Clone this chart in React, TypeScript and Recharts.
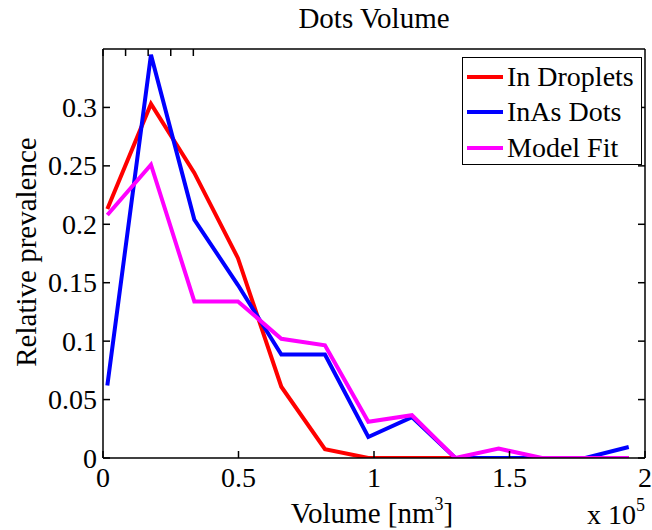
import { LineChart, Line, XAxis, YAxis, Legend } from 'recharts';

// bin centres, in units of 1e5 nm^3
const volumes = [0.016, 0.177, 0.337, 0.498, 0.658, 0.819, 0.979, 1.14, 1.3, 1.46, 1.62, 1.78, 1.94];
const inDroplets = [0.213, 0.303, 0.244, 0.171, 0.061, 0.0075, 0, 0, 0, 0, 0, 0, 0];
const inAsDots = [0.062, 0.345, 0.204, 0.148, 0.0885, 0.0885, 0.018, 0.035, 0, 0, 0, 0, 0.0094];
const modelFit = [0.208, 0.251, 0.134, 0.134, 0.102, 0.0965, 0.031, 0.0366, 0, 0.008, 0, 0, 0];

const xTicks = [0, 0.5, 1, 1.5, 2];
const yTicks = [0, 0.05, 0.1, 0.15, 0.2, 0.25, 0.3];

const rows = volumes.map((v, i) => ({
  volume: v,
  droplets: inDroplets[i],
  dots: inAsDots[i],
  fit: modelFit[i],
}));

const FONT = '"Liberation Serif", "Times New Roman", serif';
const FS = 28;
const LABEL_FS = 29;

const BottomTick = (props: any) => {
  const { x, y, payload } = props;
  return (
    <g>
      <line x1={x} x2={x} y1={y} y2={y - 7} stroke="#000" strokeWidth={1.5} />
      <text x={x} y={y + 29} textAnchor="middle" fontSize={FS} fontFamily={FONT} fill="#000">
        {payload.value}
      </text>
    </g>
  );
};

const LeftTick = (props: any) => {
  const { x, y, payload } = props;
  return (
    <g>
      <line x1={x} x2={x + 7} y1={y} y2={y} stroke="#000" strokeWidth={1.5} />
      <text x={x - 6} y={y + 9.5} textAnchor="end" fontSize={FS} fontFamily={FONT} fill="#000">
        {payload.value}
      </text>
    </g>
  );
};

const TopTick = (props: any) => {
  const { x, y } = props;
  return <line x1={x} x2={x} y1={y} y2={y + 7} stroke="#000" strokeWidth={1.5} />;
};

const RightTick = (props: any) => {
  const { x, y } = props;
  return <line x1={x} x2={x - 7} y1={y} y2={y} stroke="#000" strokeWidth={1.5} />;
};

const LegendBox = (props: any) => {
  const { payload } = props;
  return (
    <div style={{ paddingTop: 1 }}>
      {(payload || []).map((p: any) => (
        <div
          key={p.value}
          style={{ display: 'flex', alignItems: 'center', height: 35.5, fontFamily: FONT, fontSize: FS, color: '#000' }}
        >
          <span style={{ display: 'inline-block', width: 36, height: 4, background: p.color, marginLeft: 4, marginRight: 4 }} />
          <span style={{ lineHeight: 1 }}>{p.value}</span>
        </div>
      ))}
    </div>
  );
};

export default function App() {
  return (
    <div style={{ position: 'absolute', left: 0, top: 0, width: 652, height: 530, background: '#fff' }}>
      <LineChart width={652} height={530} data={rows} margin={{ top: 48, right: 6, left: 0, bottom: 0 }}>
        <XAxis
          dataKey="volume"
          type="number"
          domain={[0, 2]}
          ticks={xTicks}
          interval={0}
          height={72}
          tickSize={0}
          tickMargin={0}
          tickLine={false}
          tick={<BottomTick />}
          axisLine={{ stroke: '#000', strokeWidth: 1.5 }}
          allowDataOverflow
        />
        <XAxis
          xAxisId="top"
          orientation="top"
          type="number"
          domain={[0, 2]}
          ticks={xTicks}
          interval={0}
          height={1}
          tickSize={0}
          tickMargin={0}
          tickLine={false}
          tick={<TopTick />}
          axisLine={{ stroke: '#000', strokeWidth: 1.5 }}
          allowDataOverflow
        />
        <YAxis
          type="number"
          domain={[0, 0.35]}
          ticks={yTicks}
          interval={0}
          width={103}
          tickSize={0}
          tickMargin={0}
          tickLine={false}
          tick={<LeftTick />}
          axisLine={{ stroke: '#000', strokeWidth: 1.5 }}
          allowDataOverflow
        />
        <YAxis
          yAxisId="right"
          orientation="right"
          type="number"
          domain={[0, 0.35]}
          ticks={yTicks}
          interval={0}
          width={1}
          tickSize={0}
          tickMargin={0}
          tickLine={false}
          tick={<RightTick />}
          axisLine={{ stroke: '#000', strokeWidth: 1.5 }}
          allowDataOverflow
        />
        <Line type="linear" dataKey="droplets" name="In Droplets" stroke="#ff0000" strokeWidth={4} dot={false} isAnimationActive={false} />
        <Line type="linear" dataKey="dots" name="InAs Dots" stroke="#0000ff" strokeWidth={4} dot={false} isAnimationActive={false} />
        <Line type="linear" dataKey="fit" name="Model Fit" stroke="#ff00ff" strokeWidth={4} dot={false} isAnimationActive={false} />
        <Legend
          layout="horizontal"
          verticalAlign="middle"
          align="center"
          content={<LegendBox />}
          wrapperStyle={{
            top: 57,
            left: 462,
            width: 180,
            height: 108,
            border: '1.5px solid #000',
            background: '#fff',
            boxSizing: 'border-box',
          }}
        />
      </LineChart>
      <svg width={652} height={530} style={{ position: 'absolute', left: 0, top: 0, pointerEvents: 'none' }}>
        <text x={374} y={28} textAnchor="middle" fontSize={LABEL_FS} fontFamily={FONT} fill="#000">
          Dots Volume
        </text>
        <text
          transform="translate(36, 252) rotate(-90)"
          textAnchor="middle"
          fontSize={LABEL_FS}
          fontFamily={FONT}
          fill="#000"
        >
          Relative prevalence
        </text>
        <text x={372} y={523} textAnchor="middle" fontSize={LABEL_FS} fontFamily={FONT} fill="#000">
          Volume [nm<tspan fontSize={18} dy={-13}>3</tspan>
          <tspan dy={13}>]</tspan>
        </text>
        <text x={587} y={524} fontSize={FS} fontFamily={FONT} fill="#000">
          x 10<tspan fontSize={18} dy={-13}>5</tspan>
        </text>
      </svg>
    </div>
  );
}
